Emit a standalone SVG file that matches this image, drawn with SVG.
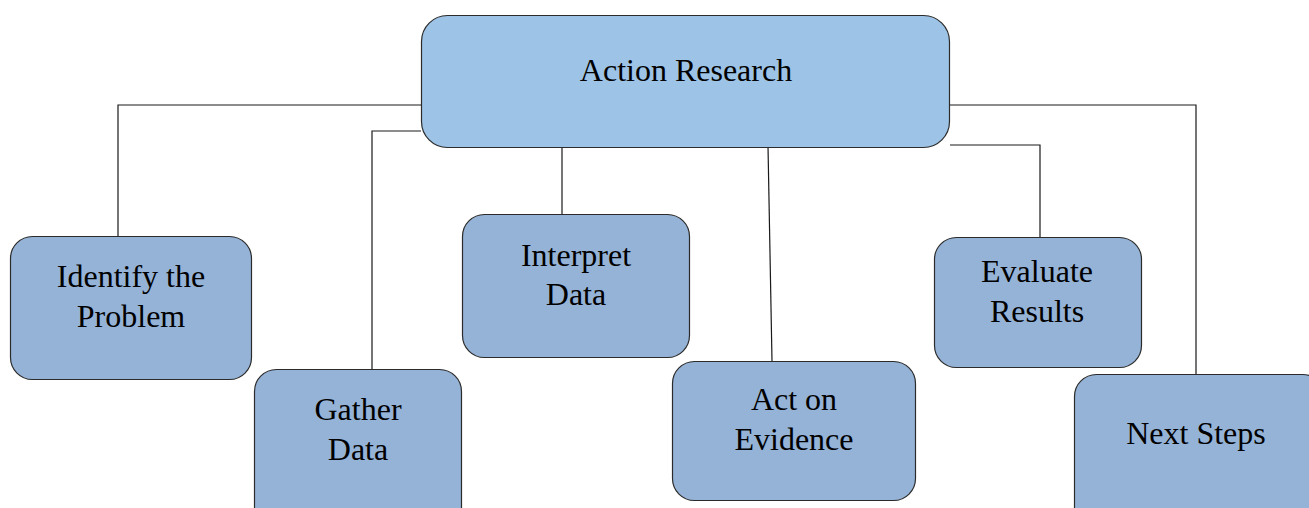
<svg xmlns="http://www.w3.org/2000/svg" width="1309" height="508" viewBox="0 0 1309 508" font-family="Liberation Serif, Times New Roman, serif">
  <style>
    .box { fill: #95B3D7; stroke: #2b2b2b; stroke-width: 1.2; }
    .root { fill: #9DC3E6; stroke: #2b2b2b; stroke-width: 1.2; }
    .label { font-size: 32px; fill: #000; text-anchor: middle; }
    .conn { fill: none; stroke: #1a1a1a; stroke-width: 1.2; }
  </style>
  <rect width="1309" height="508" fill="#fff"/>

  <!-- connectors from the root to each step -->
  <g id="connectors">
    <polyline class="conn" points="421,105 118,105 118,236"/>
    <polyline class="conn" points="421,131 372,131 372,369"/>
    <line class="conn" x1="562" y1="148" x2="562" y2="214"/>
    <line class="conn" x1="768" y1="146" x2="772" y2="361"/>
    <polyline class="conn" points="950,145 1040,145 1040,237"/>
    <polyline class="conn" points="950,105 1196,105 1196,374"/>
  </g>

  <g id="action-research">
    <rect class="root" x="421.5" y="15.5" width="528" height="132" rx="26"/>
    <text class="label" x="686" y="81" font-family="Liberation Serif">Action Research</text>
  </g>

  <g id="identify-the-problem">
    <rect class="box" x="10.5" y="236.5" width="241" height="143" rx="22"/>
    <text class="label" x="131" y="287" font-family="Liberation Serif">Identify the</text>
    <text class="label" x="131" y="327" font-family="Liberation Serif">Problem</text>
  </g>

  <g id="gather-data">
    <rect class="box" x="254.5" y="369.5" width="207" height="160" rx="22"/>
    <text class="label" x="358" y="420" font-family="Liberation Serif">Gather</text>
    <text class="label" x="358" y="460" font-family="Liberation Serif">Data</text>
  </g>

  <g id="interpret-data">
    <rect class="box" x="462.5" y="214.5" width="227" height="143" rx="22"/>
    <text class="label" x="576" y="266" font-family="Liberation Serif">Interpret</text>
    <text class="label" x="576" y="305" font-family="Liberation Serif">Data</text>
  </g>

  <g id="act-on-evidence">
    <rect class="box" x="672.5" y="361.5" width="243" height="139" rx="22"/>
    <text class="label" x="794" y="410" font-family="Liberation Serif">Act on</text>
    <text class="label" x="794" y="450" font-family="Liberation Serif">Evidence</text>
  </g>

  <g id="evaluate-results">
    <rect class="box" x="934.5" y="237.5" width="207" height="130" rx="22"/>
    <text class="label" x="1037" y="282" font-family="Liberation Serif">Evaluate</text>
    <text class="label" x="1037" y="322" font-family="Liberation Serif">Results</text>
  </g>

  <g id="next-steps">
    <rect class="box" x="1074.5" y="374.5" width="250" height="160" rx="22"/>
    <text class="label" x="1196" y="444" font-family="Liberation Serif">Next Steps</text>
  </g>
</svg>
